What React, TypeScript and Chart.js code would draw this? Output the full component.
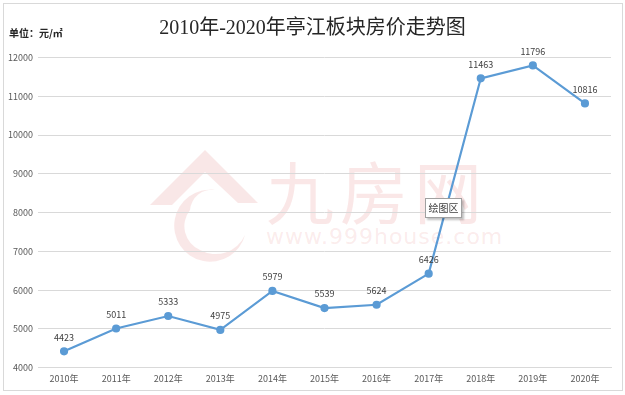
import React, { useEffect, useRef } from "react";
import { Chart, registerables } from "chart.js";

Chart.register(...registerables);

const categories = ["2010年", "2011年", "2012年", "2013年", "2014年", "2015年", "2016年", "2017年", "2018年", "2019年", "2020年"];
const prices = [4423, 5011, 5333, 4975, 5979, 5539, 5624, 6426, 11463, 11796, 10816];
const yMin = 4000;
const yMax = 12000;
const yStep = 1000;
const titleText = "2010年-2020年亭江板块房价走势图";
const unitText = "单位：元/㎡";

const LINE_COLOR = "#5B9BD5";
const CJK = '"Noto Sans CJK SC", "Microsoft YaHei", sans-serif';

const dataLabelPlugin = {
  id: "dataLabels",
  afterDatasetsDraw(chart: any) {
    const ctx = chart.ctx;
    const meta = chart.getDatasetMeta(0);
    const ds = chart.data.datasets[0];
    ctx.save();
    ctx.font = `9px ${CJK}`;
    ctx.fillStyle = "#404040";
    ctx.textAlign = "center";
    ctx.textBaseline = "middle";
    meta.data.forEach((pt: any, i: number) => {
      ctx.fillText(String(ds.data[i]), pt.x, pt.y - 14);
    });
    ctx.restore();
  },
};

export default function App() {
  const ref = useRef<HTMLCanvasElement | null>(null);
  useEffect(() => {
    if (!ref.current) return;
    const chart = new Chart(ref.current, {
      type: "line",
      data: {
        labels: categories,
        datasets: [
          {
            data: prices,
            borderColor: LINE_COLOR,
            backgroundColor: LINE_COLOR,
            borderWidth: 2.2,
            pointRadius: 3,
            pointBackgroundColor: LINE_COLOR,
            pointBorderColor: LINE_COLOR,
            tension: 0,
          },
        ],
      },
      options: {
        animation: false,
        responsive: false,
        layout: { padding: { left: 2, right: 14, top: 57.5, bottom: 7.3 } },
        plugins: {
          legend: { display: false },
          tooltip: { enabled: false },
          title: { display: false },
        },
        scales: {
          x: {
            offset: true,
            grid: { display: false, drawTicks: false },
            border: { color: "#d9d9d9", width: 1 },
            ticks: { color: "#595959", font: { size: 9, family: CJK }, padding: 5, maxRotation: 0, autoSkip: false },
            afterFit: (s: any) => {
              s.height = 20;
            },
          },
          y: {
            min: yMin,
            max: yMax,
            grid: { color: "#d9d9d9", lineWidth: 1, drawTicks: false },
            border: { display: false },
            ticks: {
              stepSize: yStep,
              color: "#595959",
              font: { size: 9, family: CJK },
              padding: 5,
              callback: (v: any) => String(v),
            },
            afterFit: (s: any) => {
              s.width = 36;
            },
          },
        },
      },
      plugins: [dataLabelPlugin],
    });
    return () => chart.destroy();
  }, []);

  return (
    <div style={{ position: "fixed", left: 0, top: 0, width: 625, height: 395, background: "#fff", overflow: "hidden" }}>
      <div style={{ position: "absolute", left: 3, top: 3, width: 620, height: 388, border: "1px solid #d9d9d9", boxSizing: "border-box" }} />
      {/* watermark */}
      <svg width={625} height={395} style={{ position: "absolute", left: 0, top: 0 }}>
        <g opacity={0.16} fill="#e0706f">
          <path d="M150 205 L205 150 L258 203 L238 203 L205 172 L172 205 Z" />
          <path d="M215 190 A36 36 0 1 0 245 235 A32 32 0 0 1 200 250 A26 26 0 0 1 190 210 A22 22 0 0 1 215 190 Z" />
        </g>
      </svg>
      <div
        style={{
          position: "absolute",
          left: 266,
          top: 150,
          fontFamily: CJK,
          fontSize: 68,
          letterSpacing: 6,
          color: "rgba(224,112,111,0.17)",
          lineHeight: "80px",
          whiteSpace: "nowrap",
        }}
      >
        九房网
      </div>
      <div
        style={{
          position: "absolute",
          left: 266,
          top: 222,
          fontFamily: "DejaVu Sans, sans-serif",
          fontSize: 22,
          letterSpacing: 1,
          color: "rgba(224,112,111,0.14)",
          lineHeight: "30px",
          whiteSpace: "nowrap",
        }}
      >
        www.999house.com
      </div>
      <canvas ref={ref} width={625} height={395} style={{ position: "absolute", left: 0, top: 0 }} />
      <div
        style={{
          position: "absolute",
          left: 0,
          top: 12,
          width: 625,
          textAlign: "center",
          fontFamily: '"Liberation Serif", "Noto Sans CJK SC", serif',
          fontSize: 20,
          color: "#262626",
          lineHeight: "30px",
        }}
      >
        {titleText}
      </div>
      <div
        style={{
          position: "absolute",
          left: 9,
          top: 25,
          fontFamily: CJK,
          fontSize: 10,
          fontWeight: 700,
          color: "#262626",
          lineHeight: "16px",
        }}
      >
        {unitText}
      </div>
      <div
        style={{
          position: "absolute",
          left: 425,
          top: 198,
          width: 37,
          height: 20,
          background: "#fff",
          border: "1px solid #a0a0a0",
          boxShadow: "2px 2px 2px rgba(0,0,0,0.25)",
          fontFamily: CJK,
          fontSize: 10,
          color: "#404040",
          lineHeight: "18px",
          textAlign: "center",
          boxSizing: "border-box",
        }}
      >
        绘图区
      </div>
    </div>
  );
}
